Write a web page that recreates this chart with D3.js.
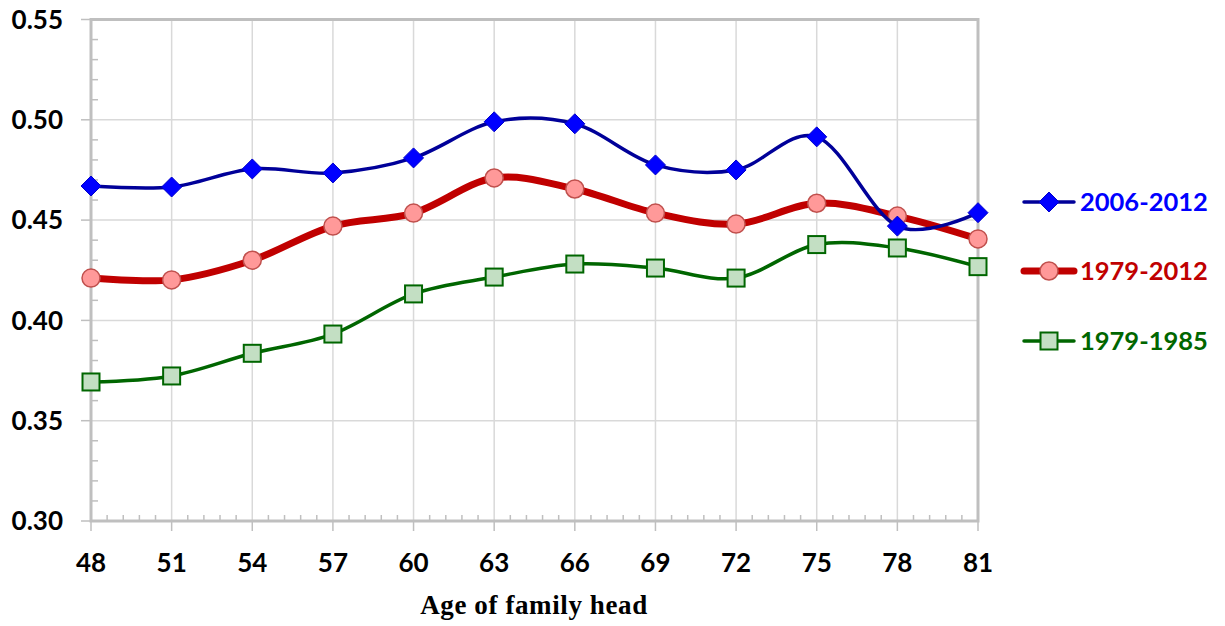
<!DOCTYPE html>
<html>
<head>
<meta charset="utf-8">
<script src="https://cdn.jsdelivr.net/npm/d3@7"></script>
<style>
  html, body { margin: 0; padding: 0; background: #fff; }
  svg { display: block; }
</style>
</head>
<body>
<svg id="chart" width="1225" height="626"></svg>
<script>
// Ages of the family head (x categories)
const ages = [48, 51, 54, 57, 60, 63, 66, 69, 72, 75, 78, 81];
// Y-axis tick labels
const yTicks = [0.30, 0.35, 0.40, 0.45, 0.50, 0.55];

// Series values per age
const s2006_2012 = [0.467, 0.4665, 0.4755, 0.4735, 0.481, 0.499, 0.498, 0.4775, 0.475, 0.4915, 0.447, 0.4537];
const s1979_2012 = [0.4211, 0.4202, 0.430, 0.447, 0.4535, 0.471, 0.4655, 0.4535, 0.448, 0.4584, 0.452, 0.4406];
const s1979_1985 = [0.3693, 0.3723, 0.3836, 0.3932, 0.4132, 0.4216, 0.4281, 0.4261, 0.4211, 0.4378, 0.4361, 0.4268];

const seriesNames = ["2006-2012", "1979-2012", "1979-1985"];

const svg = d3.select("#chart");
const plotLeft = 91, plotRight = 978, plotTop = 19.5, plotBottom = 521;

const x = d3.scaleLinear().domain([48, 81]).range([plotLeft, plotRight]);
const y = d3.scaleLinear().domain([0.30, 0.55]).range([plotBottom, plotTop]);

const gridColor = "#d9d9d9";
const axisColor = "#bfbfbf";
const labelFont = "Lato, 'Open Sans', sans-serif";

// Gridlines
svg.append("g").selectAll("line").data(yTicks.slice(1, -1)).join("line")
  .attr("x1", plotLeft).attr("x2", plotRight)
  .attr("y1", d => y(d)).attr("y2", d => y(d))
  .attr("stroke", gridColor).attr("stroke-width", 1.5);
svg.append("g").selectAll("line").data(ages.slice(1, -1)).join("line")
  .attr("x1", d => x(d)).attr("x2", d => x(d))
  .attr("y1", plotTop).attr("y2", plotBottom)
  .attr("stroke", gridColor).attr("stroke-width", 1.5);

// Minor ticks: y every 0.01 (inward), x every 0.6 (upward)
const yMinor = d3.range(0, 26).map(i => 0.30 + i * 0.01).filter((d, i) => i % 5 !== 0);
svg.append("g").selectAll("line").data(yMinor).join("line")
  .attr("x1", plotLeft).attr("x2", plotLeft + 7)
  .attr("y1", d => y(d)).attr("y2", d => y(d))
  .attr("stroke", axisColor).attr("stroke-width", 1.5);
const xMinor = d3.range(0, 56).map(i => 48 + i * 0.6).filter((d, i) => i % 5 !== 0);
svg.append("g").selectAll("line").data(xMinor).join("line")
  .attr("x1", d => x(d)).attr("x2", d => x(d))
  .attr("y1", plotBottom).attr("y2", plotBottom - 6)
  .attr("stroke", axisColor).attr("stroke-width", 1.5);

// Major ticks
svg.append("g").selectAll("line").data(yTicks).join("line")
  .attr("x1", plotLeft - 10).attr("x2", plotLeft)
  .attr("y1", d => y(d)).attr("y2", d => y(d))
  .attr("stroke", axisColor).attr("stroke-width", 1.5);
svg.append("g").selectAll("line").data(ages).join("line")
  .attr("x1", d => x(d)).attr("x2", d => x(d))
  .attr("y1", plotBottom).attr("y2", plotBottom + 10)
  .attr("stroke", axisColor).attr("stroke-width", 1.5);

// Plot border / axis lines
svg.append("rect")
  .attr("x", plotLeft).attr("y", plotTop)
  .attr("width", plotRight - plotLeft).attr("height", plotBottom - plotTop)
  .attr("fill", "none").attr("stroke", axisColor).attr("stroke-width", 3);

// Tick labels
svg.append("g").selectAll("text").data(yTicks).join("text")
  .attr("x", 63).attr("y", d => y(d)).attr("dy", "0.35em")
  .attr("text-anchor", "end")
  .attr("font-family", labelFont).attr("font-weight", "bold").attr("font-size", 26)
  .attr("fill", "#000")
  .text(d => d.toFixed(2));
svg.append("g").selectAll("text").data(ages).join("text")
  .attr("x", d => x(d)).attr("y", 572)
  .attr("text-anchor", "middle")
  .attr("font-family", labelFont).attr("font-weight", "bold").attr("font-size", 26)
  .attr("fill", "#000")
  .text(d => d);

// Axis title
svg.append("text")
  .attr("x", 534).attr("y", 614)
  .attr("text-anchor", "middle")
  .attr("font-family", "'Liberation Serif', 'Times New Roman', serif")
  .attr("font-weight", "bold").attr("font-size", 27)
  .attr("letter-spacing", 0.6)
  .text("Age of family head");

const line = d3.line().curve(d3.curveCatmullRom.alpha(0))
  .x(d => x(d[0])).y(d => y(d[1]));

const styles = [
  { values: s2006_2012, stroke: "#000099", width: 3.5, text: "#0000ff", marker: "diamond", fill: "#0000ff", mstroke: "#0000cc" },
  { values: s1979_2012, stroke: "#c00000", width: 7, text: "#c00000", marker: "circle", fill: "#ff9999", mstroke: "#c0504d" },
  { values: s1979_1985, stroke: "#006600", width: 3.5, text: "#006600", marker: "square", fill: "#c3dfc3", mstroke: "#006600" }
];

function drawMarker(g, type, cx, cy, s) {
  if (type === "diamond") {
    g.append("path")
      .attr("d", `M${cx},${cy - 10}L${cx + 10},${cy}L${cx},${cy + 10}L${cx - 10},${cy}Z`)
      .attr("fill", s.fill).attr("stroke", s.mstroke).attr("stroke-width", 1);
  } else if (type === "circle") {
    g.append("circle").attr("cx", cx).attr("cy", cy).attr("r", 9)
      .attr("fill", s.fill).attr("stroke", s.mstroke).attr("stroke-width", 1.5);
  } else {
    g.append("rect").attr("x", cx - 8.5).attr("y", cy - 8.5)
      .attr("width", 17).attr("height", 17)
      .attr("fill", s.fill).attr("stroke", s.mstroke).attr("stroke-width", 2);
  }
}

// Series lines and markers (draw bottom series first)
[2, 1, 0].forEach(i => {
  const s = styles[i];
  const pts = ages.map((a, j) => [a, s.values[j]]);
  const g = svg.append("g");
  g.append("path").datum(pts)
    .attr("d", line)
    .attr("fill", "none").attr("stroke", s.stroke)
    .attr("stroke-width", s.width).attr("stroke-linejoin", "round").attr("stroke-linecap", "round");
  pts.forEach(p => drawMarker(g, s.marker, x(p[0]), y(p[1]), s));
});

// Legend
const legendY = [202, 271, 341];
styles.forEach((s, i) => {
  const g = svg.append("g");
  const ly = legendY[i];
  g.append("line").attr("x1", 1024).attr("x2", 1074).attr("y1", ly).attr("y2", ly)
    .attr("stroke", s.stroke).attr("stroke-width", s.width).attr("stroke-linecap", "round");
  drawMarker(g, s.marker, 1049, ly, s);
  g.append("text").attr("x", 1080).attr("y", ly).attr("dy", "0.35em")
    .attr("font-family", labelFont).attr("font-weight", "bold").attr("font-size", 25.5)
    .attr("fill", s.text).text(seriesNames[i]);
});
</script>
</body>
</html>
